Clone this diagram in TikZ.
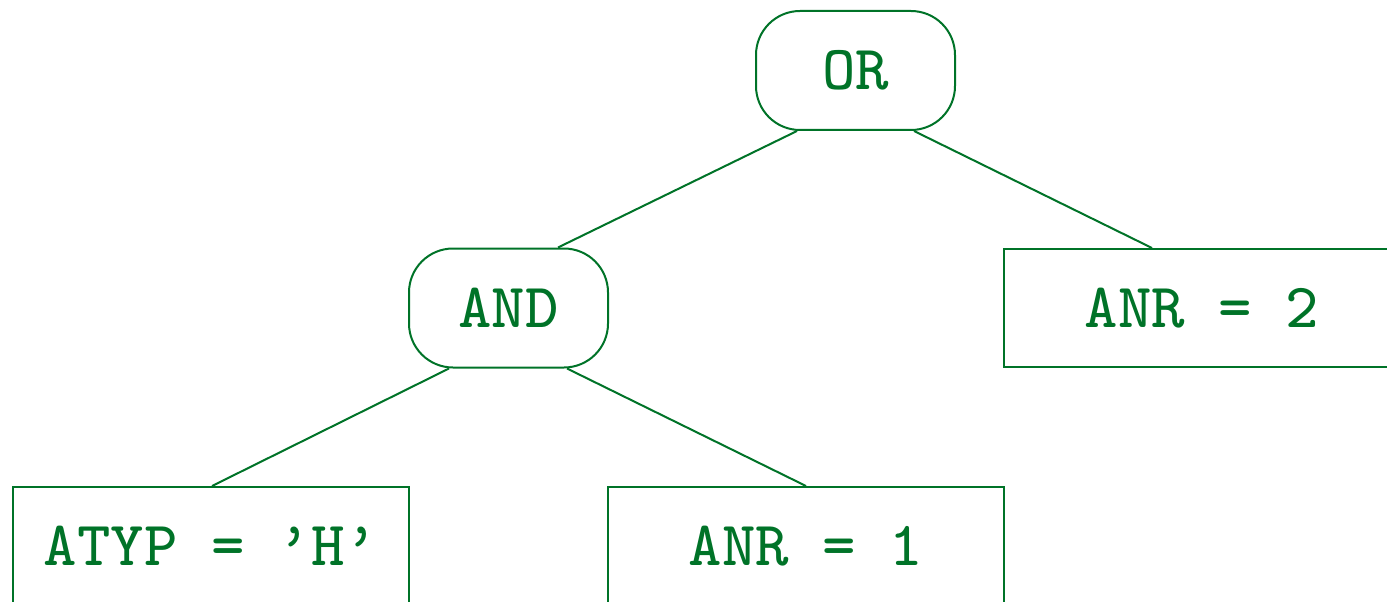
\documentclass[tikz,border=0pt]{standalone}
\usepackage{fontspec}
\usepackage{xcolor}
\usepackage{tikz}
\newfontfamily\treefont{lmmono8-regular.otf}
\definecolor{treegreen}{RGB}{0,115,40}
\tikzset{
    opnode/.style={draw=treegreen,line width=1pt,rounded corners=22pt,minimum width=99.5pt,minimum height=59.5pt,text=treegreen,font=\fontsize{31.5}{38}\selectfont\treefont},
    condnode/.style={draw=treegreen,line width=1pt,minimum width=198pt,minimum height=59pt,text=treegreen,font=\fontsize{31.5}{38}\selectfont\treefont},
    edge/.style={draw=treegreen,line width=1pt}
}
\begin{document}
\begin{tikzpicture}[x=1pt,y=1pt]
        \useasboundingbox (0,0) rectangle (693.5,300.5);
        \clip (0,0) rectangle (693.5,300.5);
        \node[opnode] (or) at (427.75,265.25) {OR};
        \node[opnode] (and) at (254.25,146.5) {AND};
        \node[condnode] (anr2) at (601,146.5) {ANR = 2};
        \node[condnode] (atyp) at (105.5,27.5) {ATYP = ’H’};
        \node[condnode] (anr1) at (403,27.5) {ANR = 1};
        \draw[edge] ([xshift=-29.25pt]or.south)--([xshift=24.75pt]and.north);
        \draw[edge] ([xshift=29.25pt]or.south)--([xshift=-25pt]anr2.north);
        \draw[edge] ([xshift=-29.75pt]and.south)--([xshift=0.5pt]atyp.north);
        \draw[edge] ([xshift=29.25pt]and.south)--([xshift=0pt]anr1.north);
    \end{tikzpicture}
\end{document}
